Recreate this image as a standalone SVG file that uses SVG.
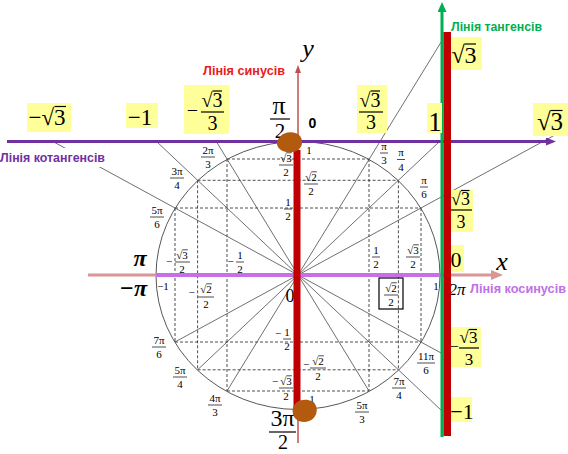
<svg xmlns="http://www.w3.org/2000/svg" width="568" height="454" viewBox="0 0 568 454">
<style>
.ray{stroke:#4a4a4a;stroke-width:0.8;fill:none}
.dash{stroke:#222;stroke-width:0.8;stroke-dasharray:3 2;fill:none}
.m{font-family:"Liberation Serif","Times New Roman",serif;fill:#000;text-anchor:middle}
.sm{font-size:11px}
.fb{stroke:#000;stroke-width:0.7}
.ov{stroke:#000;stroke-width:0.7}
.ovb{stroke:#000;stroke-width:1.2}
.fbb{stroke:#000;stroke-width:1.2}
.yb{fill:#FFFF99}
.lbl{font-family:"Liberation Sans",Arial,sans-serif;font-weight:bold;font-size:13px}
.bigpi{font-size:24px;font-weight:bold;font-style:italic}
</style>
<defs>
<marker id="arCot" markerUnits="userSpaceOnUse" markerWidth="10" markerHeight="8" refX="0" refY="4" orient="auto"><path d="M0,0 L10,4 L0,8 z" fill="#7030A0"/></marker>
<marker id="arX" markerUnits="userSpaceOnUse" markerWidth="12" markerHeight="10" refX="0" refY="5" orient="auto"><path d="M0,0 L12,5 L0,10 z" fill="#D99694"/></marker>
<marker id="arTan" markerUnits="userSpaceOnUse" markerWidth="10" markerHeight="9" refX="0" refY="4.5" orient="auto"><path d="M0,0 L10,4.5 L0,9 z" fill="#00B050"/></marker>
<marker id="arY" markerUnits="userSpaceOnUse" markerWidth="8" markerHeight="6" refX="0" refY="3" orient="auto"><path d="M0,0 L8,3 L0,6 z" fill="#C0504D"/></marker>
</defs>
<rect width="568" height="454" fill="#fff"/>

<g id="dashed">
<path class="dash" d="M227,159 H369 M197.6,180.3 H398.4 M175,208 H421 M175,342 H421 M197.6,369.8 H398.4 M227,391 H369"/>
<path class="dash" d="M227,159 V391 M197.6,180.3 V369.8 M175,208 V342 M369,159 V391 M398.4,180.3 V369.8 M421,208 V342"/>
</g>

<g id="circle">
<ellipse cx="298" cy="275.5" rx="142" ry="134" fill="none" stroke="#444" stroke-width="0.9"/>
</g>

<g id="connectors">
<path class="ray" d="M298,275 L553.8,135.6 M298,275 L440,141 M298,275 L443,39 M298,275 L216,141 M298,275 L156,141 M298,275 L52,141 M298,275 L175,342 M298,275 L197.6,369.8 M298,275 L227,391 M298,275 L369,391 M298,275 L442,411 M298,275 L442,353.5"/>
</g>

<g id="cot-label">
<rect x="0" y="148" width="108" height="19" fill="#fff"/>
<text class="lbl" x="0" y="162" fill="#7030A0" textLength="105" lengthAdjust="spacingAndGlyphs">Лінія котангенсів</text>
</g>

<g id="axes">
<line x1="88" y1="275" x2="491" y2="275" stroke="#D99694" stroke-width="3" marker-end="url(#arX)"/>
<line x1="156" y1="275" x2="442" y2="275" stroke="#C86EE8" stroke-width="4"/>
<line x1="7" y1="141.5" x2="546" y2="141.5" stroke="#7030A0" stroke-width="3" marker-end="url(#arCot)"/>
<line x1="298" y1="443" x2="298" y2="73" stroke="#C0504D" stroke-width="1.5" marker-end="url(#arY)"/>
<line x1="442" y1="437" x2="442" y2="12" stroke="#00B050" stroke-width="3" marker-end="url(#arTan)"/>
</g>

<g id="titles">
<text class="lbl" x="203" y="75" fill="#E8201C" textLength="82" lengthAdjust="spacingAndGlyphs">Лінія синусів</text>
<text class="lbl" x="451" y="31" fill="#00B050" textLength="91" lengthAdjust="spacingAndGlyphs">Лінія тангенсів</text>
<text class="lbl" x="470" y="293" fill="#C070E8" textLength="96" lengthAdjust="spacingAndGlyphs">Лінія косинусів</text>
<text class="m" x="308" y="57" font-size="26" font-style="italic">y</text>
<text class="m" x="502" y="270" font-size="26" font-style="italic">x</text>
</g>

<g id="angle-labels">
<text class="m sm" x="384" y="149.5">π</text><line class="fb" x1="380" y1="153" x2="388" y2="153"/><text class="m sm" x="384" y="164">3</text>
<text class="m sm" x="401" y="156">π</text><line class="fb" x1="397" y1="159.5" x2="405" y2="159.5"/><text class="m sm" x="401" y="170.5">4</text>
<text class="m sm" x="424" y="183.5">π</text><line class="fb" x1="420" y1="187" x2="428" y2="187"/><text class="m sm" x="424" y="198">6</text>
<text class="m sm" x="208" y="153.5">2π</text><line class="fb" x1="201" y1="157" x2="215" y2="157"/><text class="m sm" x="208" y="168">3</text>
<text class="m sm" x="177" y="174.5">3π</text><line class="fb" x1="170" y1="178" x2="184" y2="178"/><text class="m sm" x="177" y="189">4</text>
<text class="m sm" x="157" y="213.5">5π</text><line class="fb" x1="150" y1="217" x2="164" y2="217"/><text class="m sm" x="157" y="228">6</text>
<text class="m sm" x="159" y="343.5">7π</text><line class="fb" x1="152" y1="347" x2="166" y2="347"/><text class="m sm" x="159" y="358">6</text>
<text class="m sm" x="180" y="373.5">5π</text><line class="fb" x1="173" y1="377" x2="187" y2="377"/><text class="m sm" x="180" y="388">4</text>
<text class="m sm" x="215" y="401.5">4π</text><line class="fb" x1="208" y1="405" x2="222" y2="405"/><text class="m sm" x="215" y="416">3</text>
<text class="m sm" x="362" y="408.5">5π</text><line class="fb" x1="355" y1="412" x2="369" y2="412"/><text class="m sm" x="362" y="423">3</text>
<text class="m sm" x="399" y="384.5">7π</text><line class="fb" x1="392" y1="388" x2="406" y2="388"/><text class="m sm" x="399" y="399">4</text>
<text class="m sm" x="426" y="359.5">11π</text><line class="fb" x1="417" y1="363" x2="435" y2="363"/><text class="m sm" x="426" y="374">6</text>
</g>

<g id="value-labels">
<text class="m sm" x="286" y="161.5">√3</text><line class="ov" x1="286.3" y1="152.8" x2="291.8" y2="152.8"/><line class="fb" x1="279" y1="165" x2="293" y2="165"/><text class="m sm" x="286" y="176">2</text>
<text class="m sm" x="311" y="180.5">√2</text><line class="ov" x1="311.3" y1="171.8" x2="316.8" y2="171.8"/><line class="fb" x1="304" y1="184" x2="318" y2="184"/><text class="m sm" x="311" y="195">2</text>
<text class="m sm" x="288" y="205.5">1</text><line class="fb" x1="284" y1="209" x2="292" y2="209"/><text class="m sm" x="288" y="220">2</text>
<text class="m sm" x="309" y="154">1</text>
<text class="m sm" x="278" y="336.5">−</text><text class="m sm" x="287" y="335.5">1</text><line class="fb" x1="283" y1="339" x2="291" y2="339"/><text class="m sm" x="287" y="350">2</text>
<text class="m sm" x="306" y="368">−</text><text class="m sm" x="318" y="364.5">√2</text><line class="ov" x1="318.3" y1="355.8" x2="323.8" y2="355.8"/><line class="fb" x1="310" y1="368" x2="326" y2="368"/><text class="m sm" x="318" y="379.5">2</text>
<text class="m sm" x="275" y="385">−</text><text class="m sm" x="286" y="384.5">√3</text><line class="ov" x1="286.3" y1="375.8" x2="291.8" y2="375.8"/><line class="fb" x1="279" y1="388" x2="293" y2="388"/><text class="m sm" x="286" y="399.5">2</text>
<text class="m sm" x="312" y="403">1</text>
<text class="m sm" x="169" y="264.5">−</text><text class="m sm" x="182" y="258.5">√3</text><line class="ov" x1="182.3" y1="249.8" x2="187.8" y2="249.8"/><line class="fb" x1="175" y1="262" x2="190" y2="262"/><text class="m sm" x="182" y="273">2</text>
<text class="m sm" x="230.5" y="264.5">−</text><text class="m sm" x="240" y="258.5">1</text><line class="fb" x1="236" y1="262" x2="244" y2="262"/><text class="m sm" x="240" y="273">2</text>
<text class="m sm" x="191.5" y="295.5">−</text><text class="m sm" x="206" y="292.5">√2</text><line class="ov" x1="206.3" y1="283.8" x2="211.8" y2="283.8"/><line class="fb" x1="198" y1="297" x2="214" y2="297"/><text class="m sm" x="206" y="307.5">2</text>
<text class="m sm" x="163" y="290">−1</text>
<text class="m sm" x="376" y="253.5">1</text><line class="fb" x1="372" y1="257" x2="380" y2="257"/><text class="m sm" x="376" y="268">2</text>
<text class="m sm" x="413" y="253.5">√3</text><line class="ov" x1="413.3" y1="244.8" x2="418.8" y2="244.8"/><line class="fb" x1="406" y1="257" x2="420" y2="257"/><text class="m sm" x="413" y="268">2</text>
<rect x="379" y="278" width="24" height="31" fill="none" stroke="#000" stroke-width="1.2"/>
<text class="m sm" x="391" y="291.5">√2</text><line class="ov" x1="391.3" y1="282.8" x2="396.8" y2="282.8"/><line class="fb" x1="384" y1="295" x2="398" y2="295"/><text class="m sm" x="391" y="306">2</text>
<text class="m sm" x="436" y="290">1</text>
<text class="m" x="290" y="302" font-size="18">0</text>
</g>

<g id="big-labels">
<rect class="yb" x="27" y="103" width="44" height="29"/>
<text class="m" x="47" y="125" font-size="23">−√3</text><line class="ovb" x1="54.5" y1="106.5" x2="66" y2="106.5"/>
<rect class="yb" x="126" y="103" width="32" height="25"/>
<text class="m" x="140" y="125" font-size="23">−1</text>
<rect class="yb" x="184" y="85" width="45" height="49"/>
<text class="m" x="192.5" y="117" font-size="20">−</text>
<text class="m" x="212" y="107" font-size="20">√3</text><line class="ovb" x1="212.5" y1="91" x2="222" y2="91"/>
<line class="fbb" x1="201" y1="112" x2="224" y2="112"/>
<text class="m" x="212.5" y="130" font-size="20">3</text>
<text class="m" x="279" y="114" font-size="26">π</text>
<line class="fbb" x1="270" y1="119" x2="290" y2="119"/>
<text class="m" x="280" y="138" font-size="21">2</text>
<text x="312.5" y="128" font-family="Liberation Sans, Arial, sans-serif" font-weight="bold" font-size="14" text-anchor="middle">0</text>
<rect class="yb" x="357" y="85" width="30" height="48"/>
<text class="m" x="370" y="107" font-size="20">√3</text><line class="ovb" x1="370.5" y1="91" x2="380" y2="91"/>
<line class="fbb" x1="359" y1="112" x2="383" y2="112"/>
<text class="m" x="371" y="129" font-size="20">3</text>
<rect class="yb" x="427" y="103" width="15" height="30"/>
<text class="m" x="435" y="131" font-size="27">1</text>
<rect class="yb" x="450" y="37" width="32" height="33"/>
<text class="m" x="464" y="63" font-size="24">√3</text><line class="ovb" x1="464.5" y1="44" x2="476" y2="44"/>
<rect class="yb" x="533" y="103" width="35" height="33"/>
<text class="m" x="550" y="130" font-size="25">√3</text><line class="ovb" x1="550.5" y1="110.5" x2="562.5" y2="110.5"/>
<rect class="yb" x="448" y="190" width="25" height="42"/>
<text class="m" x="460.5" y="205" font-size="18">√3</text><line class="ovb" x1="461" y1="190.5" x2="469.5" y2="190.5"/>
<line class="fbb" x1="450" y1="210" x2="472" y2="210"/>
<text class="m" x="461" y="228" font-size="18">3</text>
<rect class="yb" x="447" y="245" width="17" height="27"/>
<text class="m" x="456" y="267" font-size="22">0</text>
<text class="m" x="457" y="295" font-size="17" font-style="italic">2π</text>
<rect class="yb" x="450" y="327" width="31" height="40"/>
<text class="m" x="454" y="352" font-size="17">−</text>
<text class="m" x="468.5" y="343" font-size="17">√3</text><line class="ovb" x1="469" y1="329.5" x2="477" y2="329.5"/>
<line class="fbb" x1="459" y1="348" x2="479" y2="348"/>
<text class="m" x="469" y="365" font-size="17">3</text>
<rect class="yb" x="450" y="397" width="22" height="25"/>
<text class="m" x="462" y="419" font-size="22">−1</text>
<text class="m bigpi" x="140" y="266">π</text>
<text class="m bigpi" x="147" y="296" style="text-anchor:end">−π</text>
<text class="m" x="282.5" y="426" font-size="24">3π</text>
<line class="fbb" x1="269" y1="432" x2="296" y2="432"/>
<text class="m" x="283" y="449" font-size="20">2</text>
</g>

<g id="bars">
<rect x="293.5" y="150" width="7" height="258" fill="#C00000"/>
<rect x="443.5" y="32" width="7.5" height="404" fill="#C00000"/>
</g>

<g id="points">
<path d="M280,137 C284,131 296,131 300,136 C304,141 302,149 296,151 C290,154 281,152 278,147 C276,143 277,140 280,137 Z" fill="#B25A0E"/>
<path d="M296,403 C301,398 312,399 315,404 C319,410 316,419 309,421 C302,424 294,420 293,414 C292,409 293,406 296,403 Z" fill="#B25A0E"/>
</g>
</svg>
